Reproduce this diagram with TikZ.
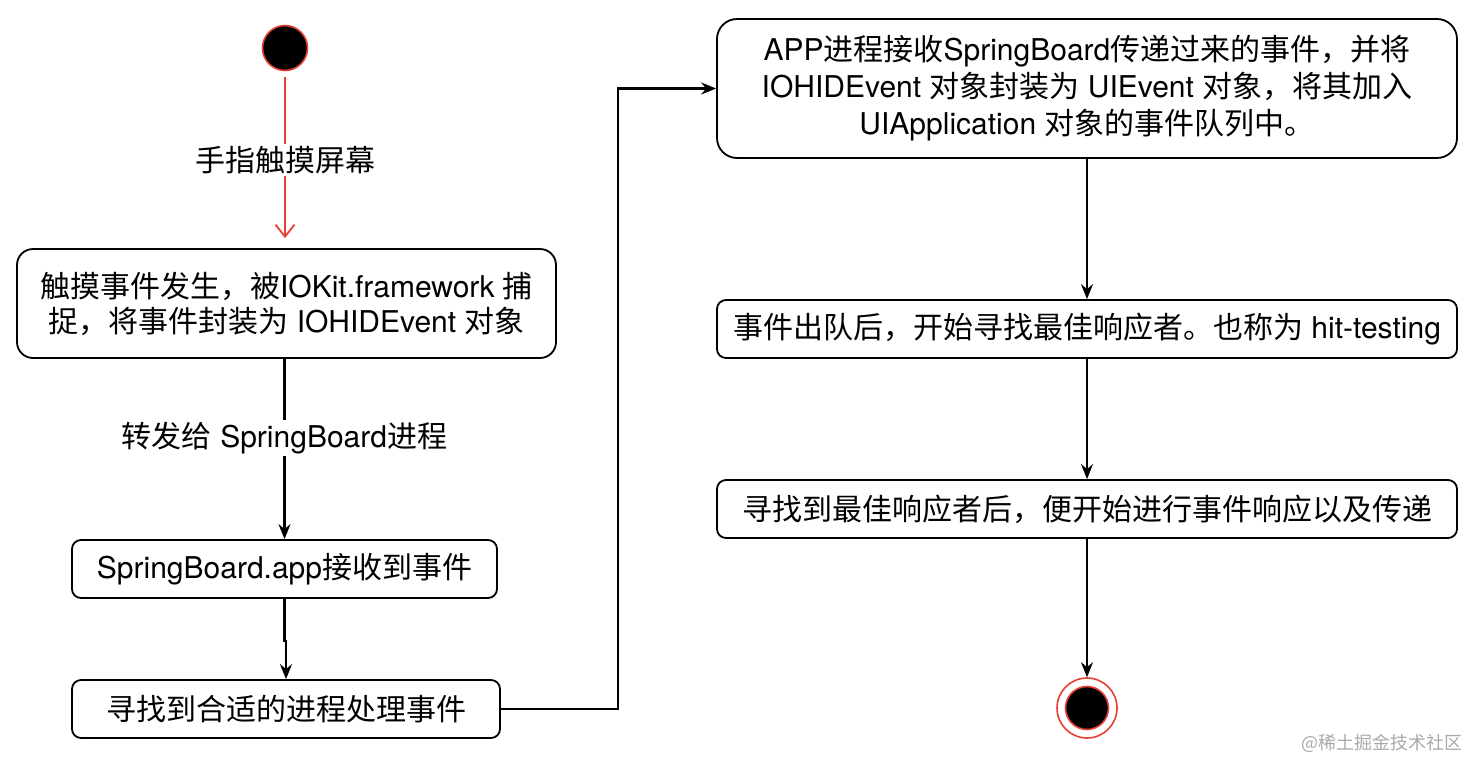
\documentclass[tikz,border=0pt]{standalone}
\usepackage{fontspec}
\setmainfont{TeX Gyre Heros}
\newfontfamily\cjk{Noto Sans CJK SC}
\usetikzlibrary{arrows.meta}
\definecolor{ored}{RGB}{232,64,52}
\definecolor{wmgray}{RGB}{170,170,170}
\begin{document}
\begin{tikzpicture}[x=1pt,y=-1pt,
  box/.style={draw=black, line width=1.8pt, fill=white, align=center, inner sep=0pt,
    font=\fontsize{30}{35}\selectfont},
  arr/.style={-{Stealth[length=15pt,width=12pt,inset=5pt]}, line width=2.1pt},
  redarr/.style={-{Straight Barb[length=12pt,width=19pt]}, line width=1.8pt, draw=ored},
  lbl/.style={fill=white, inner sep=2pt, font=\fontsize{30}{36}\selectfont},
]
\useasboundingbox[fill=white] (0,0) rectangle (1482,774);

% start
\node[circle, draw=ored, line width=1.6pt, fill=black, minimum size=45pt, inner sep=0pt] (start) at (285,48) {};

% left column
\node[box, rounded corners=16pt, minimum width=539pt, minimum height=109pt] (b1) at (286.5,303.5)
  {{\cjk 触摸事件发生，被}IOKit.framework {\cjk 捕}\\{\cjk 捉，将事件封装为} IOHIDEvent {\cjk 对象}};
\node[box, rounded corners=9pt, minimum width=425pt, minimum height=58pt] (b2) at (284.5,569)
  {SpringBoard.app{\cjk 接收到事件}};
\node[box, rounded corners=9pt, minimum width=428pt, minimum height=58pt] (b3) at (286,709)
  {{\cjk 寻找到合适的进程处理事件}};

% right column
\node[box, rounded corners=20pt, minimum width=740pt, minimum height=139pt,
  font=\fontsize{30}{37}\selectfont] (b4) at (1087,88.5)
  {APP{\cjk 进程接收}SpringBoard{\cjk 传递过来的事件，并将}\\IOHIDEvent {\cjk 对象封装为} UIEvent {\cjk 对象，将其加入}\\UIApplication {\cjk 对象的事件队列中。}};
\node[box, rounded corners=9pt, minimum width=740pt, minimum height=58pt] (b5) at (1087,329)
  {{\cjk 事件出队后，开始寻找最佳响应者。也称为} hit-testing};
\node[box, rounded corners=9pt, minimum width=740pt, minimum height=58pt] (b6) at (1087,509)
  {{\cjk 寻找到最佳响应者后，便开始进行事件响应以及传递}};

% end
\node[circle, draw=ored, line width=1.6pt, fill=white, minimum size=60pt, inner sep=0pt] (endo) at (1087,708) {};
\node[circle, draw=ored, line width=1.6pt, fill=black, minimum size=43pt, inner sep=0pt] (endi) at (endo.center) {};

% connectors
\draw[redarr, shorten <=6pt, shorten >=10pt] (start) -- node[lbl, pos=0.5] {\cjk 手指触摸屏幕} (b1.north -| start);
\draw[arr] (b1.south -| b2.north) -- node[lbl, pos=0.44] {{\cjk 转发给} SpringBoard{\cjk 进程}} (b2.north);
\draw[arr] (b2.south) -- ++(0,42) -| (b3.north);
\draw[arr] (b3.east) -- ++(117,0) |- (b4.west);
\draw[arr] (b4.south) -- (b5.north);
\draw[arr] (b5.south) -- (b6.north);
\draw[arr] (b6.south) -- (endo.north);

% watermark
\node[font=\cjk\fontsize{18}{20}\selectfont, text=wmgray, anchor=east, inner sep=0pt] (wm) at (1463,743) {@稀土掘金技术社区};
\end{tikzpicture}
\end{document}
